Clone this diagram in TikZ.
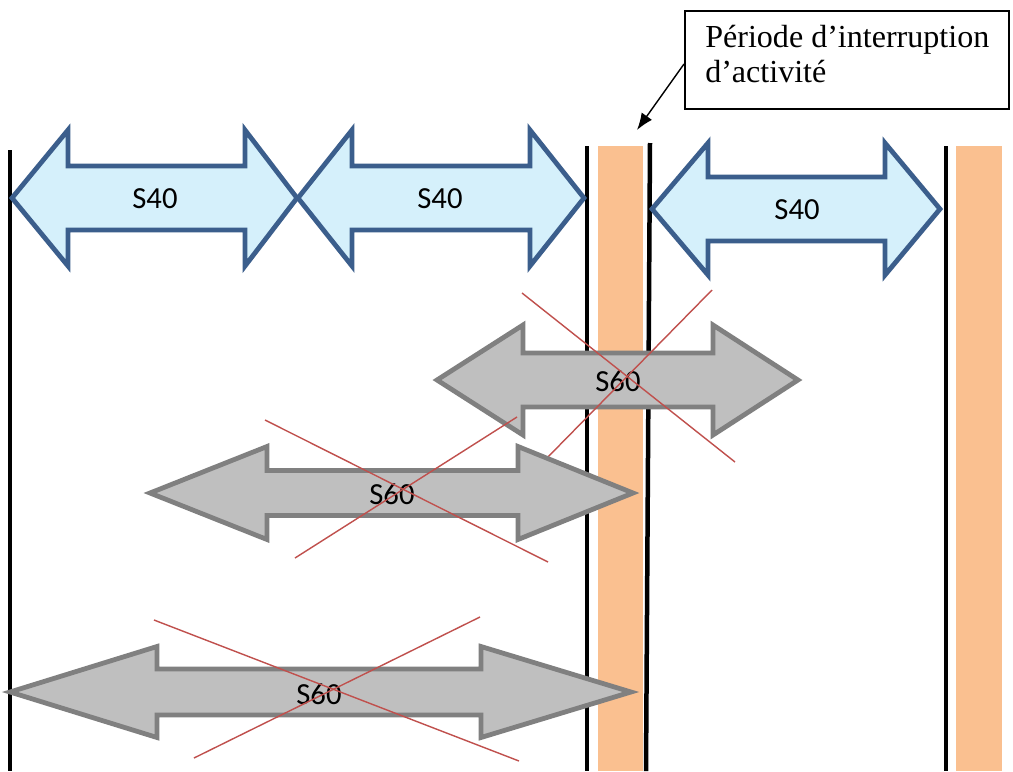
\documentclass[tikz,border=0pt]{standalone}
\usepackage{fontspec}
\setmainfont{Liberation Serif}
\newfontfamily\calib{Carlito}
\usetikzlibrary{arrows.meta,calc}
\definecolor{bluefill}{HTML}{D5F0FB}
\definecolor{blueline}{HTML}{3B5E8C}
\definecolor{grayfill}{HTML}{BFBFBF}
\definecolor{grayline}{HTML}{808080}
\definecolor{orangebar}{HTML}{FAC090}
\definecolor{crossred}{HTML}{C0504D}
\newcommand\dblarr[8]{\draw[#1] (#2,#6) -- (#3,#6-#7) -- (#3,#6-#8) -- (#4,#6-#8) -- (#4,#6-#7) -- (#5,#6) -- (#4,#6+#7) -- (#4,#6+#8) -- (#3,#6+#8) -- (#3,#6+#7) -- cycle;}
\begin{document}
\begin{tikzpicture}[x=0.025cm,y=-0.025cm,
  bluearrow/.style={fill=bluefill,draw=blueline,line width=3.4pt,miter limit=10},
  grayarrow/.style={fill=grayfill,draw=grayline,line width=3.4pt,miter limit=10},
  crossline/.style={draw=crossred,line width=1pt},
  divider/.style={draw=black,line width=3.2pt},
  pausebar/.style={fill=orangebar,draw=none},
  arrlabel/.style={font=\calib\fontsize{21.8}{26}\selectfont,inner sep=0pt},
  callbox/.style={draw=black,line width=1.4pt,minimum width=8.1cm,minimum height=2.45cm,inner sep=0pt},
  calltext/.style={font=\fontsize{22.8}{24.9}\selectfont,align=left,inner sep=0pt}]
\fill[white] (0,0) rectangle (1013,771);
\useasboundingbox (0,0) rectangle (1013,771);
% pause bars
\fill[pausebar] (598,146) rectangle (643,771);
\fill[pausebar] (956,146) rectangle (1002,771);
% dividers
\draw[divider] (10,150) -- (10,771);
\draw[divider] (587,146) -- (587,771);
\draw[divider] (650,143) -- (646,771);
\draw[divider] (946,146) -- (946,771);
% S40 arrows
\dblarr{bluearrow}{12}{68}{245}{297}{198}{68}{32}
\node[arrlabel] (b1) at (155,199) {S40};
\dblarr{bluearrow}{298}{352}{530}{584}{198}{68}{32}
\node[arrlabel] (b2) at (440,199) {S40};
\dblarr{bluearrow}{652}{708}{885}{940}{209}{66}{32}
\node[arrlabel] (b3) at (797,210) {S40};
% S60 arrows
\dblarr{grayarrow}{437}{523}{713}{798}{380}{55}{27}
\node[arrlabel] (g1) at (618,381) {S60};
\draw[crossline] (522,293) -- (735,462);
\draw[crossline] (712,290) -- (545,460);
\dblarr{grayarrow}{150}{267}{518}{633}{493}{46.5}{22.5}
\node[arrlabel] (g2) at (392,494) {S60};
\draw[crossline] (265,420) -- (548,562);
\draw[crossline] (517,417) -- (295,558);
\dblarr{grayarrow}{10}{157}{481}{631}{692}{45.5}{23}
\node[arrlabel] (g3) at (319,694) {S60};
\draw[crossline] (154,620) -- (519,761);
\draw[crossline] (480,617) -- (194,758);
% callout
\node[callbox,anchor=north west] (callout) at (684,10) {};
\node[calltext,anchor=north west] (calltxt) at (705,25) {Période d’interruption\\d’activité};
\coordinate (ptr) at (637,130);
\draw[line width=1pt,-{Latex[length=12pt,width=9pt]}] ($(callout.north west)!0.54!(callout.south west)$) -- (ptr);
\end{tikzpicture}
\end{document}
